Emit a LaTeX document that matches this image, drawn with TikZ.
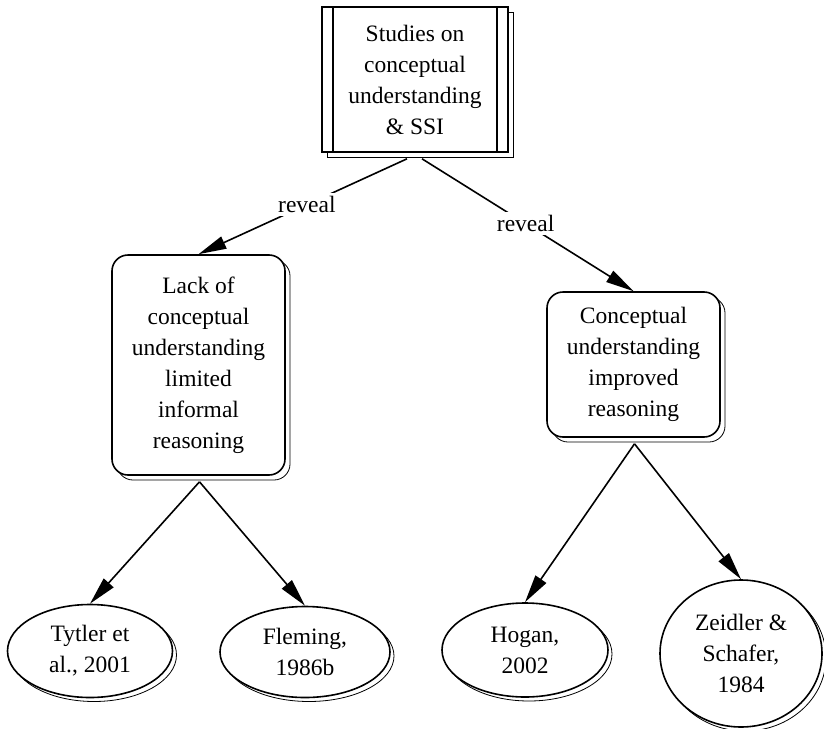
\documentclass[tikz,border=0pt]{standalone}
\usepackage{fontspec}
\setmainfont{Liberation Serif}
\usetikzlibrary{shapes.geometric,arrows.meta,shadows}
\begin{document}
\begin{tikzpicture}[x=1pt,y=-1pt,
  every node/.style={font=\fontsize{23.5}{31}\selectfont, align=center, inner sep=0pt},
  boxshadow/.style={copy shadow={shadow xshift=5pt, shadow yshift=-5pt, fill=white, draw=black, line width=0.8pt}},
  topbox/.style={draw, line width=1.6pt, fill=white, minimum width=186pt, minimum height=145pt, boxshadow},
  roundbox/.style={draw, line width=1.6pt, fill=white, rounded corners=16pt, boxshadow},
  oval/.style={ellipse, draw, line width=1.6pt, fill=white, copy shadow={shadow xshift=4pt, shadow yshift=-4pt, fill=white, draw=black, line width=0.8pt}},
  link/.style={line width=1.6pt, -{Triangle[length=28pt,width=13pt]}},
  lbl/.style={fill=white, inner sep=3pt}
]
\useasboundingbox (0,0) rectangle (824,728);

\node[topbox] (top) at (415,79.5) {Studies on\\conceptual\\understanding\\\& SSI};
\draw[line width=1.6pt] ([xshift=12pt]top.north west) -- ([xshift=12pt]top.south west);
\draw[line width=1.6pt] ([xshift=-12pt]top.north east) -- ([xshift=-12pt]top.south east);

\node[roundbox, minimum width=173pt, minimum height=220pt] (lb) at (198.5,365) {Lack of\\conceptual\\understanding\\limited\\informal\\reasoning};
\node[roundbox, minimum width=173pt, minimum height=145pt] (rb) at (633.5,364.5) {Conceptual\\understanding\\improved\\reasoning};

\node[oval, minimum width=165pt, minimum height=93pt] (e1) at (90,651) {Tytler et\\al., 2001};
\node[oval, minimum width=170pt, minimum height=91pt] (e2) at (305,652) {Fleming,\\1986b};
\node[oval, minimum width=166pt, minimum height=94pt] (e3) at (525,650) {Hogan,\\2002};
\node[oval, minimum width=162pt, minimum height=147pt] (e4) at (741,653.5) {Zeidler \&\\Schafer,\\1984};

\draw[link] ([xshift=-8pt,yshift=-6pt]top.south) -- node[lbl,pos=0.48]{reveal} (lb.north);
\draw[link] ([xshift=7pt,yshift=-6pt]top.south) -- node[lbl,pos=0.49]{reveal} (rb.north);
\draw[link] ([xshift=1pt,yshift=-6pt]lb.south) -- (e1.north);
\draw[link] ([xshift=1pt,yshift=-6pt]lb.south) -- (e2.north);
\draw[link] ([xshift=1pt,yshift=-6pt]rb.south) -- (e3.north);
\draw[link] ([xshift=1pt,yshift=-6pt]rb.south) -- (e4.north);
\end{tikzpicture}
\end{document}
